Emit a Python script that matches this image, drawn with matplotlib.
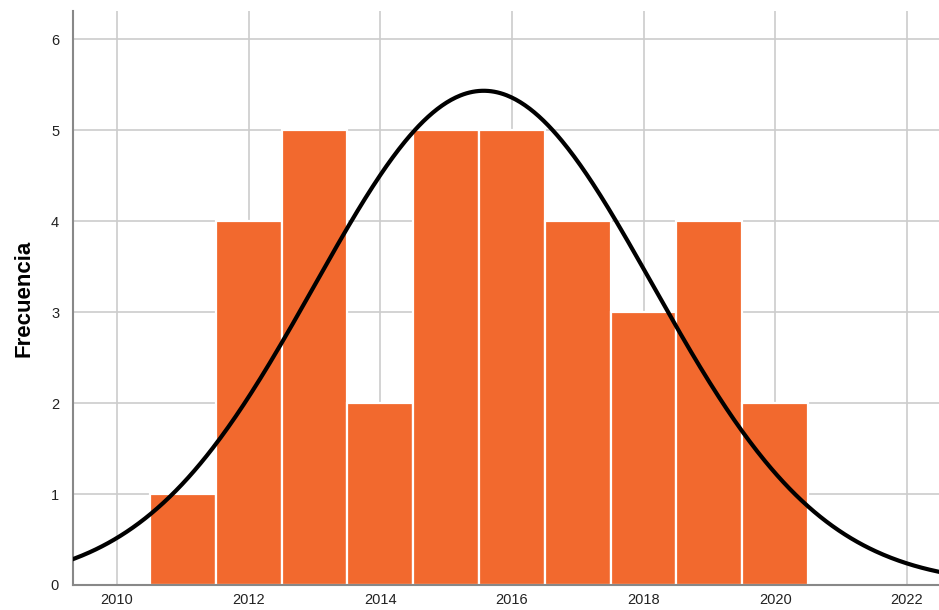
import numpy as np
import matplotlib
matplotlib.use("Agg")
import matplotlib.pyplot as plt

# Frequency of each year
years = [2011, 2012, 2013, 2014, 2015, 2016, 2017, 2018, 2019, 2020]
counts = [1, 4, 5, 2, 5, 5, 4, 3, 4, 2]
x_ticks = [2010, 2012, 2014, 2016, 2018, 2020, 2022]
y_ticks = [0, 1, 2, 3, 4, 5, 6]
y_label = "Frecuencia"

plt.rcParams["font.family"] = ["Liberation Sans", "DejaVu Sans"]

fig = plt.figure(figsize=(9.39, 6.10), dpi=100)
ax = fig.add_axes([73 / 939, 1 - 585 / 610, (939 - 73) / 939, (585 - 11) / 610])

grid_c = "#cccccc"
ax.set_axisbelow(True)
ax.grid(True, color=grid_c, linewidth=1.2)

ax.bar(years, counts, width=1.0, color="#f2692e", edgecolor="white",
       linewidth=1.6, zorder=2)

# Normal curve fitted to the data, scaled to counts per unit bin
vals = np.repeat(years, counts).astype(float)
mu = vals.mean()
sd = vals.std(ddof=1)
n = len(vals)
xs = np.linspace(2009.0, 2023.0, 600)
ys = n * 1.0 / (sd * np.sqrt(2 * np.pi)) * np.exp(-0.5 * ((xs - mu) / sd) ** 2)
ax.plot(xs, ys, color="black", linewidth=3.0, zorder=3)

ax.set_xlim(2009.33, 2022.49)
ax.set_ylim(0, 6.31)
ax.set_xticks(x_ticks)
ax.set_yticks(y_ticks)
ax.tick_params(axis="both", length=0, labelsize=10.5, colors="#222222", pad=6)
ax.tick_params(axis="y", pad=10)

for side in ["top", "right"]:
    ax.spines[side].set_visible(False)
for side in ["left", "bottom"]:
    ax.spines[side].set_color("#888888")
    ax.spines[side].set_linewidth(1.5)

ax.set_ylabel(y_label, fontsize=16, fontweight="bold", labelpad=12)

fig.savefig("out.png", dpi=100)
